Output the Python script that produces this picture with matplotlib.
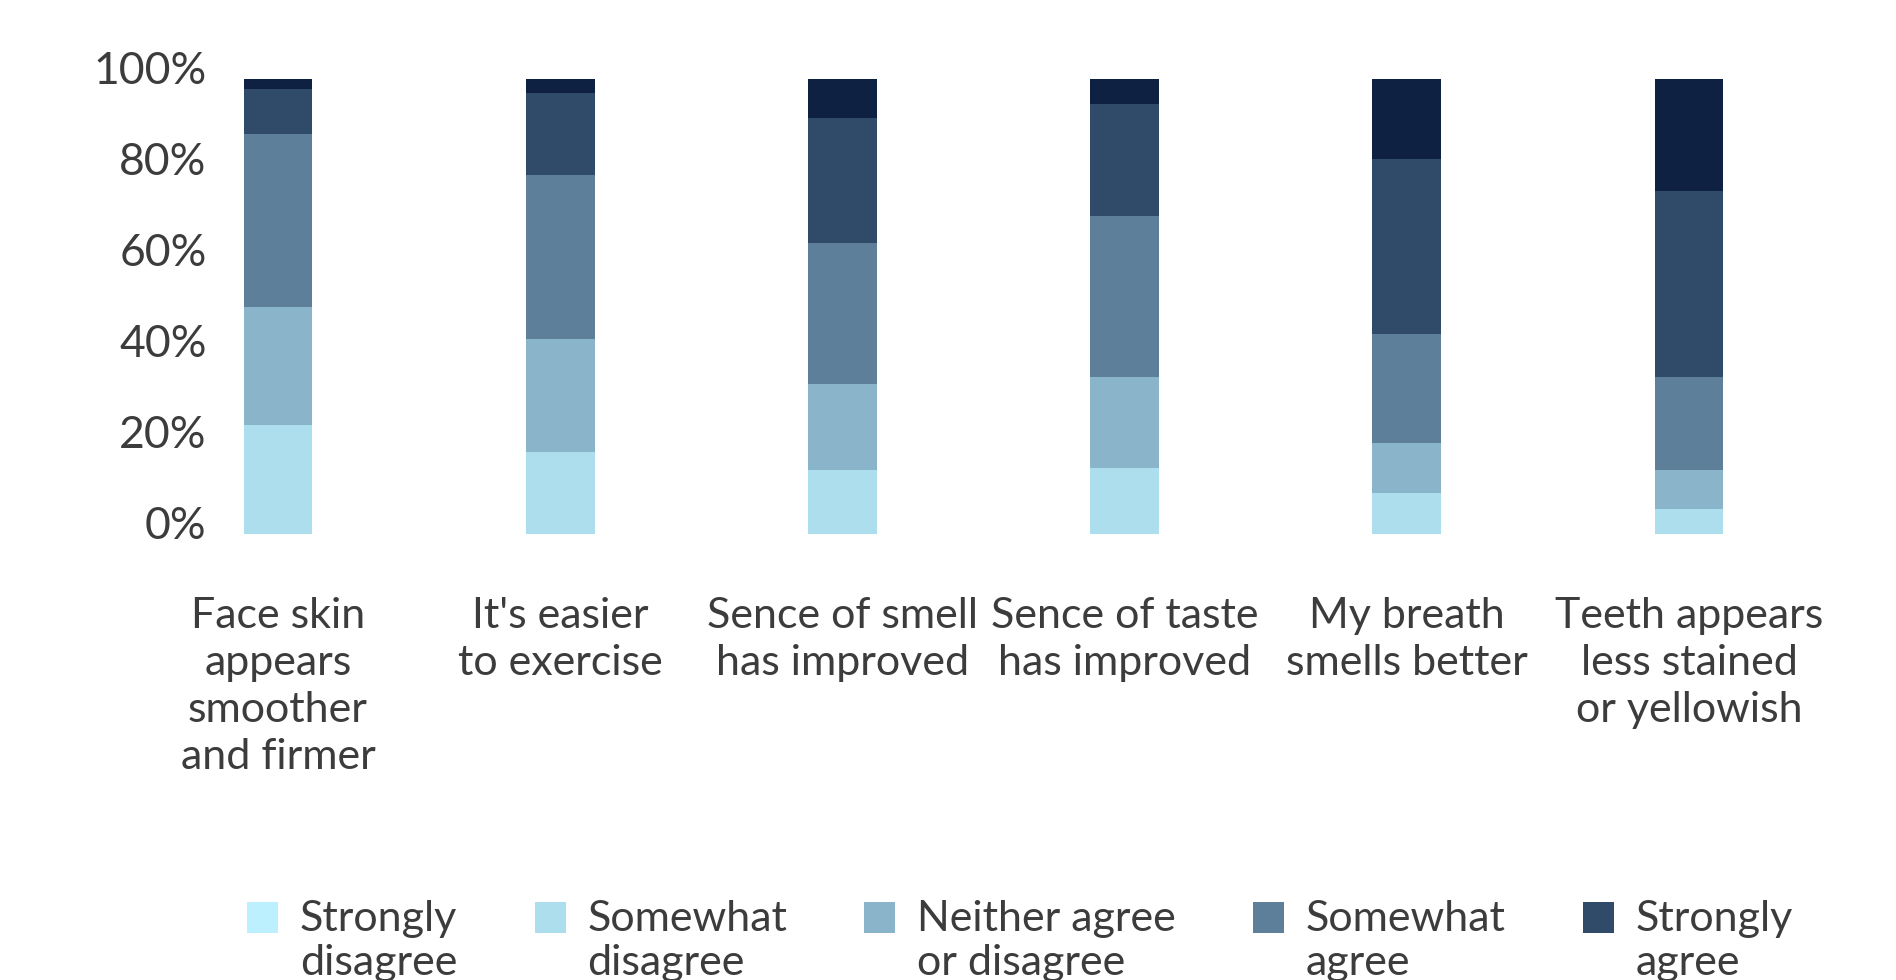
import numpy as np
import matplotlib.pyplot as plt
from matplotlib.patches import Patch, Rectangle
from matplotlib.legend_handler import HandlerPatch
from matplotlib.transforms import ScaledTranslation

plt.rcParams['font.family'] = ['Lato', 'DejaVu Sans']
plt.rcParams['font.weight'] = 'normal'

statements = ["Face skin\nappears\nsmoother\nand firmer",
              "It's easier\nto exercise",
              "Sence of smell\nhas improved",
              "Sence of taste\nhas improved",
              "My breath\nsmells better",
              "Teeth appears\nless stained\nor yellowish"]

responses = ["Strongly\ndisagree", "Somewhat\ndisagree", "Neither agree\nor disagree",
             "Somewhat\nagree", "Strongly\nagree"]

# share of answers (%) per statement, bottom to top of each bar
strongly_disagree = [24, 18, 14, 14.5, 9, 5.5]
somewhat_disagree = [26, 25, 19, 20, 11, 8.5]
neither = [38, 36, 31, 35.5, 24, 20.5]
somewhat_agree = [10, 18, 27.5, 24.5, 38.5, 41]
strongly_agree = [2, 3, 8.5, 5.5, 17.5, 24.5]

bar_colors = ['#addeee', '#8ab4ca', '#5e7f9a', '#304b69', '#0e2142']
legend_colors = ['#bdf0ff', '#addeee', '#8ab4ca', '#5e7f9a', '#304b69']
text_color = '#3c3c3c'

series = [strongly_disagree, somewhat_disagree, neither, somewhat_agree, strongly_agree]

fig = plt.figure(figsize=(18.96, 9.8), dpi=100)
ax = fig.add_axes([0.1134, 0.4551, 0.8106, 0.4638])

x = np.arange(len(statements))
bottom = np.zeros(len(statements))
for vals, col in zip(series, bar_colors):
    ax.bar(x, vals, width=0.244, bottom=bottom, color=col, linewidth=0)
    bottom += np.array(vals)

ax.set_xlim(-0.223, 5.223)
ax.set_ylim(0, 100)
ax.set_yticks(np.arange(0, 101, 20))
ax.set_yticklabels([f"{v}%" for v in range(0, 101, 20)])
ax.set_xticks(x)
ax.set_xticklabels(statements, linespacing=1.3)
ax.tick_params(axis='both', length=0, labelcolor=text_color)
ax.tick_params(axis='y', pad=6, labelsize=32)
ax.tick_params(axis='x', pad=45, labelsize=31)
for s in ax.spines.values():
    s.set_visible(False)

# nudge the percent labels a little upward
shift = ScaledTranslation(0, 12 / 100, fig.dpi_scale_trans)
for lab in ax.get_yticklabels():
    lab.set_transform(lab.get_transform() + shift)


def top_square(legend, orig_handle, xdescent, ydescent, width, height, fontsize):
    # put the swatch next to the first line of a two-line label
    return Rectangle((-xdescent, -ydescent + 0.57 * fontsize), width, height)


handles = [Patch(facecolor=c, edgecolor='none') for c in legend_colors]
fig.legend(handles, responses, loc='upper center', bbox_to_anchor=(0.538, 0.099),
           ncol=5, frameon=False, fontsize=31, labelcolor=text_color,
           handlelength=0.72, handleheight=0.72, handletextpad=0.5,
           columnspacing=1.8, borderaxespad=0, labelspacing=0,
           handler_map={Patch: HandlerPatch(patch_func=top_square)})

fig.savefig('out.png', dpi=100, facecolor='white')
